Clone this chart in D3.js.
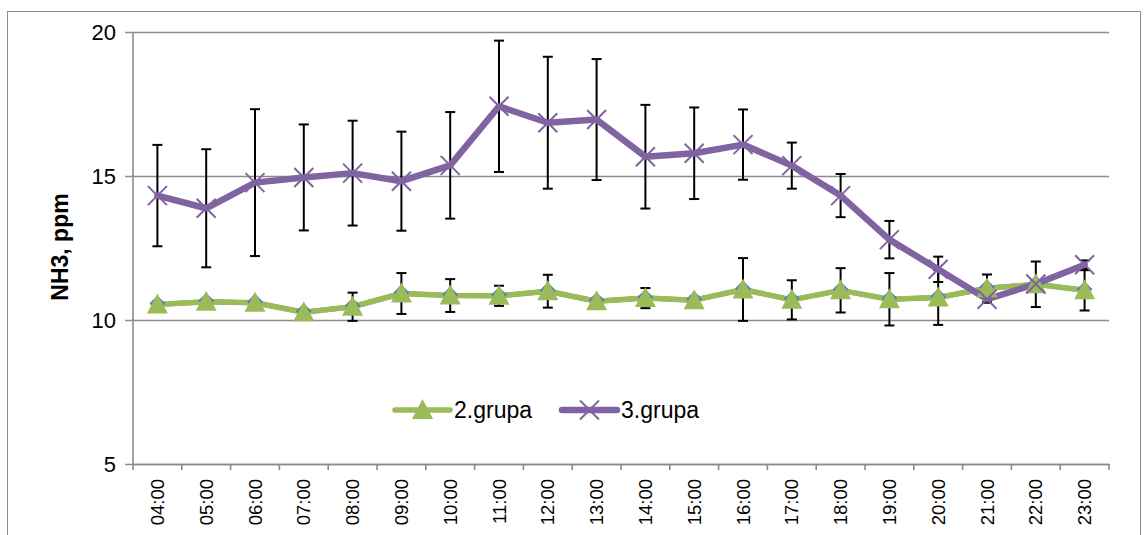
<!DOCTYPE html>
<html>
<head>
<meta charset="utf-8">
<script src="https://cdn.jsdelivr.net/npm/d3@7"></script>
<style>
  html, body { margin: 0; padding: 0; background: #fff; }
  svg { display: block; font-family: "Liberation Sans", Arial, sans-serif; }
</style>
</head>
<body>
<svg id="chart" width="1145" height="535"></svg>
<script>
// Hourly NH3 concentration (ppm) per group, mean ± standard deviation
const hours = ["04:00","05:00","06:00","07:00","08:00","09:00","10:00","11:00","12:00","13:00",
               "14:00","15:00","16:00","17:00","18:00","19:00","20:00","21:00","22:00","23:00"];

const grupa1 = [10.54,10.63,10.6,10.27,10.46,10.92,10.85,10.84,11.0,10.65,
                10.76,10.69,11.06,10.7,11.03,10.72,10.78,11.1,11.24,11.03];

const grupa2 = [10.54,10.63,10.6,10.27,10.46,10.92,10.85,10.84,11.0,10.65,
                10.76,10.69,11.06,10.7,11.03,10.72,10.78,11.1,11.24,11.03];
const grupa2Err = [0.1,0.1,0.1,0.1,0.49,0.71,0.57,0.35,0.57,0.12,
                   0.35,0.12,1.09,0.68,0.77,0.91,0.95,0.48,0.79,0.7];

const grupa3 = [14.32,13.88,14.77,14.95,15.1,14.82,15.37,17.42,16.85,16.96,
                15.67,15.79,16.09,15.36,14.32,12.79,11.76,10.72,11.25,11.92];
const grupa3Err = [1.76,2.05,2.55,1.84,1.82,1.72,1.85,2.28,2.29,2.1,
                   1.8,1.59,1.22,0.8,0.75,0.65,0.44,0.12,0.1,0.15];

const yTicks = [5, 10, 15, 20];
const yTitle = "NH3, ppm";
const legendNames = ["2.grupa", "3.grupa"];

const svg = d3.select("#chart");

const x = d3.scaleBand().domain(hours).range([133, 1109]);
const y = d3.scaleLinear().domain([5, 20]).range([464, 32]);
const cx = h => x(h) + x.bandwidth() / 2;

const gridColor = "#8c8c8c";
const colBlue = "#4F81BD", colGreen = "#9BBB59", colPurple = "#8064A2";

// chart frame
svg.append("rect")
  .attr("x", 7.5).attr("y", 11.5).attr("width", 1133).attr("height", 540)
  .attr("fill", "none").attr("stroke", "#8c8c8c").attr("stroke-width", 1);

// horizontal gridlines with left tick stubs
const yAxis = d3.axisLeft(y).tickValues(yTicks).tickSize(-(1109 - 133)).tickSizeOuter(0)
  .tickFormat(d3.format("d")).tickPadding(17);
const gy = svg.append("g").attr("transform", "translate(133,0)").call(yAxis);
gy.select(".domain").remove();
gy.selectAll(".tick line")
  .attr("x1", -8).attr("stroke", gridColor).attr("stroke-width", 1.6);
gy.selectAll(".tick text")
  .attr("font-size", 22).attr("fill", "#000")
  .attr("font-family", "'Liberation Sans', Arial, sans-serif");

// vertical axis line
svg.append("line")
  .attr("x1", 133).attr("x2", 133).attr("y1", y(20)).attr("y2", y(5))
  .attr("stroke", gridColor).attr("stroke-width", 1.6);

// category axis
const xAxis = d3.axisBottom(x).tickSize(0).tickPadding(0);
const gx = svg.append("g").attr("transform", `translate(0,${y(5)})`).call(xAxis);
gx.select(".domain").attr("stroke", gridColor).attr("stroke-width", 1.6);
gx.selectAll(".tick text")
  .attr("font-size", 18.5).attr("fill", "#000")
  .attr("font-family", "'Liberation Sans', Arial, sans-serif")
  .attr("text-anchor", "end")
  .attr("dy", null)
  .attr("transform", "translate(0,15) rotate(-90)")
  .attr("x", 0).attr("y", 0)
  .attr("dominant-baseline", "central");
// tick marks between categories
const boundaries = hours.map(h => x(h)).concat([x.range()[1]]);
svg.append("g").selectAll("line").data(boundaries).join("line")
  .attr("x1", d => d).attr("x2", d => d)
  .attr("y1", y(5)).attr("y2", y(5) + 6)
  .attr("stroke", gridColor).attr("stroke-width", 1.6);

// y axis title
svg.append("text")
  .attr("transform", "translate(60,247) rotate(-90)")
  .attr("text-anchor", "middle").attr("dominant-baseline", "central")
  .attr("font-size", 23).attr("font-weight", "bold").attr("fill", "#000")
  .text(yTitle);

// error bars (drawn beneath the lines and markers)
function errorBars(values, errs) {
  const g = svg.append("g").attr("stroke", "#000").attr("stroke-width", 2).attr("fill", "none");
  hours.forEach((h, i) => {
    const xc = cx(h), top = y(values[i] + errs[i]), bot = y(values[i] - errs[i]);
    g.append("line").attr("x1", xc).attr("x2", xc).attr("y1", top).attr("y2", bot);
    g.append("line").attr("x1", xc - 5).attr("x2", xc + 5).attr("y1", top).attr("y2", top);
    g.append("line").attr("x1", xc - 5).attr("x2", xc + 5).attr("y1", bot).attr("y2", bot);
  });
}
errorBars(grupa2, grupa2Err);
errorBars(grupa3, grupa3Err);

const line = d3.line().x((d, i) => cx(hours[i])).y(d => y(d));

function seriesLine(values, color, width) {
  svg.append("path").datum(values)
    .attr("d", line).attr("fill", "none")
    .attr("stroke", color).attr("stroke-width", width)
    .attr("stroke-linejoin", "round").attr("stroke-linecap", "round");
}

const diamond = d3.symbol().type(d3.symbolDiamond2).size(160);
const triangle = "M0,-11L10.5,9L-10.5,9Z";
const cross = "M-9.5,-9.5L9.5,9.5M-9.5,9.5L9.5,-9.5";

// 1. grupa: blue diamonds
seriesLine(grupa1, colBlue, 5);
seriesLine(grupa2, colGreen, 5.5);
seriesLine(grupa3, colPurple, 6.5);

svg.append("g").selectAll("path").data(grupa1).join("path")
  .attr("d", diamond())
  .attr("transform", (d, i) => `translate(${cx(hours[i])},${y(d) - 1})`)
  .attr("fill", colBlue);

svg.append("g").selectAll("path").data(grupa2).join("path")
  .attr("d", triangle)
  .attr("transform", (d, i) => `translate(${cx(hours[i])},${y(d)})`)
  .attr("fill", colGreen);

svg.append("g").selectAll("path").data(grupa3).join("path")
  .attr("d", cross)
  .attr("transform", (d, i) => `translate(${cx(hours[i])},${y(d)})`)
  .attr("fill", "none").attr("stroke", colPurple).attr("stroke-width", 2);

// legend
const legend = svg.append("g");
const legendItems = [
  { name: legendNames[0], color: colGreen, x0: 395, marker: triangle, w: 5.5, fill: true },
  { name: legendNames[1], color: colPurple, x0: 562, marker: cross, w: 6.5, fill: false }
];
legendItems.forEach(it => {
  legend.append("line")
    .attr("x1", it.x0).attr("x2", it.x0 + 55).attr("y1", 410).attr("y2", 410)
    .attr("stroke", it.color).attr("stroke-width", it.w).attr("stroke-linecap", "round");
  legend.append("path").attr("d", it.marker)
    .attr("transform", `translate(${it.x0 + 27.5},410)`)
    .attr("fill", it.fill ? it.color : "none")
    .attr("stroke", it.fill ? "none" : it.color).attr("stroke-width", 2);
  legend.append("text")
    .attr("x", it.x0 + 59).attr("y", 410)
    .attr("dominant-baseline", "central")
    .attr("font-size", 23).attr("fill", "#000")
    .text(it.name);
});
</script>
</body>
</html>
